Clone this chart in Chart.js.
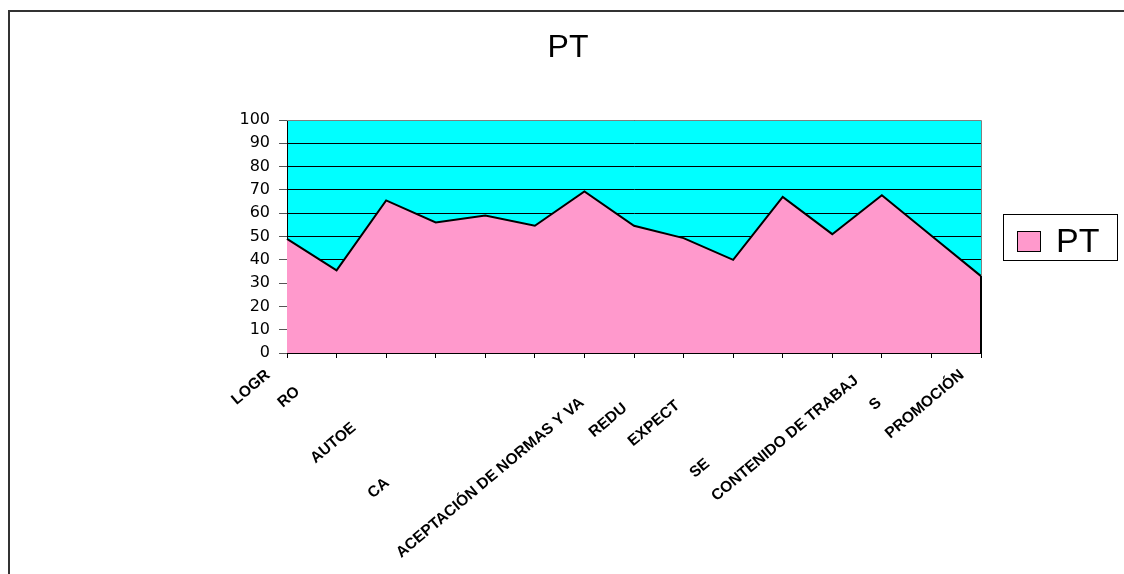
<!DOCTYPE html>
<html lang="es">
<head>
  <meta charset="UTF-8">
  <title>PT</title>
  <script src="https://cdn.jsdelivr.net/npm/chart.js"></script>
  <style>
    html, body { margin: 0; padding: 0; background: #fff; overflow: hidden; }
    #frame { position: absolute; left: 8px; top: 10px; width: 1200px; height: 700px; border-left: 2px solid #333; border-top: 2px solid #333; }
    #wrap { position: absolute; left: 0; top: 0; width: 1124px; height: 574px; }
  </style>
</head>
<body>
  <div id="frame"></div>
  <div id="wrap"><canvas id="ptChart"></canvas></div>

  <script>
    // categories (only the parts of the labels that show in the original)
    const categories = ['LOGR', 'RO', '', 'AUTOE', '', 'CA', '', 'ACEPTACIÓN DE NORMAS Y VA',
                        'REDU', 'EXPECT', '', 'SE', 'CONTENIDO DE TRABAJ', 'S', 'PROMOCIÓN'];
    const ptValues = [49, 35.5, 65.5, 56, 59, 54.6, 69.3, 54.6, 49.3, 40, 67, 51, 67.7, 50.3, 33];
    const yMin = 0, yMax = 100, yStep = 10;
    const seriesName = 'PT';

    // labels in the original are staggered down-left, push them with padding
    const labelShift = [0, 27, 0, 83, 0, 169, 0, 42, 50, 47, 0, 139, 8, 43, 0];
    const labelFontSize = 15.5;

    const plotExtras = {
      id: 'plotExtras',
      beforeDraw(chart) {
        const { ctx, chartArea: a } = chart;
        ctx.save();
        ctx.fillStyle = '#00FFFF';
        ctx.fillRect(a.left, a.top, a.width, a.height);
        ctx.restore();
      },
      afterDatasetsDraw(chart) {
        const { ctx, chartArea: a } = chart;
        const pts = chart.getDatasetMeta(0).data;
        const last = pts[pts.length - 1];
        ctx.save();
        // plot border top / right
        ctx.strokeStyle = '#808080';
        ctx.lineWidth = 1;
        ctx.beginPath();
        ctx.moveTo(a.left, a.top + 0.5);
        ctx.lineTo(a.right + 0.5, a.top + 0.5);
        ctx.lineTo(a.right + 0.5, a.bottom);
        ctx.stroke();
        // closing edge of the area
        ctx.strokeStyle = '#000';
        ctx.lineWidth = 2;
        ctx.beginPath();
        ctx.moveTo(last.x, last.y);
        ctx.lineTo(last.x, a.bottom);
        ctx.stroke();
        ctx.restore();
      },
      afterDraw(chart) {
        const { ctx, chartArea: a } = chart;
        const ds = chart.data.datasets[0];
        const bx = a.right + 22, bw = 114, bh = 46;
        const by = Math.round((a.top + a.bottom) / 2 - bh / 2);
        ctx.save();
        ctx.strokeStyle = '#000';
        ctx.lineWidth = 1;
        ctx.fillStyle = '#fff';
        ctx.fillRect(bx, by, bw, bh);
        ctx.strokeRect(bx + 0.5, by + 0.5, bw, bh);
        ctx.fillStyle = ds.backgroundColor;
        ctx.fillRect(bx + 14, by + 17, 23, 20);
        ctx.strokeRect(bx + 14.5, by + 17.5, 23, 20);
        ctx.fillStyle = '#000';
        ctx.font = '34px "Liberation Sans", Arial, sans-serif';
        ctx.textBaseline = 'alphabetic';
        ctx.fillText(ds.label, bx + 53, by + 38);
        ctx.restore();
      }
    };

    new Chart(document.getElementById('ptChart'), {
      type: 'line',
      plugins: [plotExtras],
      data: {
        labels: categories,
        datasets: [{
          label: seriesName,
          data: ptValues,
          fill: 'origin',
          backgroundColor: '#FF99CC',
          borderColor: '#000',
          borderWidth: 2,
          pointRadius: 0,
          tension: 0
        }]
      },
      options: {
        responsive: true,
        maintainAspectRatio: false,
        animation: false,
        layout: { padding: { left: 12, right: 0, top: 0, bottom: 0 } },
        plugins: {
          legend: { display: false },
          tooltip: { enabled: false },
          title: {
            display: true,
            text: 'PT',
            color: '#000',
            font: { family: '"Liberation Sans", Arial, sans-serif', size: 32, weight: 'normal' },
            padding: { top: 29, bottom: 52.6 }
          }
        },
        scales: {
          x: {
            offset: false,
            afterFit(s) { s.height = 221; },
            grid: { drawOnChartArea: false, tickLength: 5, color: '#000' },
            border: { color: '#000', width: 1 },
            ticks: {
              autoSkip: false,
              minRotation: 40,
              maxRotation: 40,
              padding: 8,
              labelOffset: -19,
              color: '#000',
              font: { family: '"Liberation Sans", Arial, sans-serif', size: labelFontSize, weight: 'bold' },
              callback(v, i) {
                const n = Math.round(labelShift[i] / (0.278 * labelFontSize));
                return this.getLabelForValue(v) + '\u00A0'.repeat(n);
              }
            }
          },
          y: {
            min: yMin,
            max: yMax,
            afterFit(s) { s.width = 275; },
            grid: { color: '#000', lineWidth: 1, tickLength: 8, tickColor: '#555' },
            border: { color: '#000', width: 1 },
            ticks: {
              stepSize: yStep,
              autoSkip: false,
              padding: 9,
              color: '#000',
              font: { family: '"DejaVu Sans", sans-serif', size: 16 }
            }
          },
          // empty axis that keeps the room for the legend on the right
          yRoom: {
            type: 'linear',
            position: 'right',
            afterFit(s) { s.width = 143; },
            grid: { display: false },
            border: { display: false },
            ticks: { display: false }
          }
        }
      }
    });
  </script>
</body>
</html>
